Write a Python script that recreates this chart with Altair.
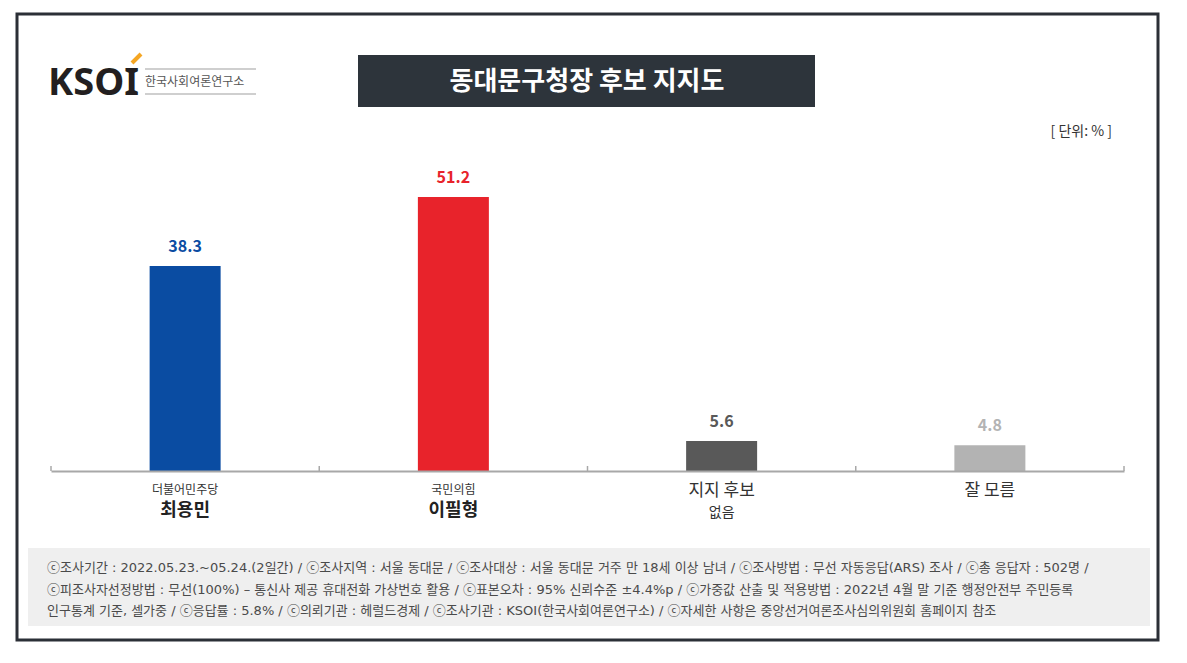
import altair as alt
import pandas as pd

# ---- data ----
categories = ["최용민", "이필형", "지지 후보 없음", "잘 모름"]
values = [38.3, 51.2, 5.6, 4.8]
party = ["더불어민주당", "국민의힘", "", ""]
line1 = ["더불어민주당", "국민의힘", "지지 후보", "잘 모름"]
line2 = ["최용민", "이필형", "없음", ""]
candidate_flag = [True, True, False, False]

title_text = "동대문구청장 후보 지지도"
unit_text = "[ 단위: % ]"
footnotes = [
    "ⓒ조사기간 : 2022.05.23.~05.24.(2일간) / ⓒ조사지역 : 서울 동대문 / ⓒ조사대상 : 서울 동대문 거주 만 18세 이상 남녀 / ⓒ조사방법 : 무선 자동응답(ARS) 조사 / ⓒ총 응답자 : 502명 /",
    "ⓒ피조사자선정방법 : 무선(100%) – 통신사 제공 휴대전화 가상번호 활용 / ⓒ표본오차 : 95% 신뢰수준 ±4.4%p / ⓒ가중값 산출 및 적용방법 : 2022년 4월 말 기준 행정안전부 주민등록",
    "인구통계 기준, 셀가중 / ⓒ응답률 : 5.8% / ⓒ의뢰기관 : 헤럴드경제 / ⓒ조사기관 : KSOI(한국사회여론연구소) / ⓒ자세한 사항은 중앙선거여론조사심의위원회 홈페이지 참조",
]

df = pd.DataFrame({
    "cat": categories,
    "value": values,
    "party": party,
    "line1": line1,
    "line2": line2,
    "cand": candidate_flag,
})

FONT = "Noto Sans CJK KR"
FOOT_FONT = "DejaVu Sans, Noto Sans CJK KR"
bar_colors = ["#0a4ca2", "#e8232b", "#595959", "#b3b3b3"]
label_colors = ["#1f5cad", "#e8232b", "#555555", "#8a8a8a"]

W, H = 1171, 463
xscale = alt.Scale(domain=categories, range=[43, 1116], paddingInner=0, paddingOuter=0)
yscale = alt.Scale(domain=[0, 60], range=[463, 142])

one = pd.DataFrame({"k": [0]})

# frame
frame = alt.Chart(one).mark_rect(fillOpacity=0, stroke="#2b2f36", strokeWidth=3).encode(
    x=alt.value(9), x2=alt.value(1150), y=alt.value(6), y2=alt.value(632))

# footnote box
foot_box = alt.Chart(one).mark_rect(fill="#efefef").encode(
    x=alt.value(20), x2=alt.value(1142), y=alt.value(540), y2=alt.value(618))

foot_layers = []
for i, t in enumerate(footnotes):
    foot_layers.append(
        alt.Chart(pd.DataFrame({"t": [t]})).mark_text(
            align="left", baseline="middle", font=FOOT_FONT, fontSize=13, color="#4a4a4a"
        ).encode(x=alt.value(39), y=alt.value(560 + i * 21.5), text="t:N")
    )

# title box
title_box = alt.Chart(one).mark_rect(fill="#2d343b").encode(
    x=alt.value(350), x2=alt.value(807), y=alt.value(47), y2=alt.value(99))
title = alt.Chart(pd.DataFrame({"t": [title_text]})).mark_text(
    align="center", baseline="middle", font=FONT, fontSize=26, fontWeight="bold", color="white"
).encode(x=alt.value(579), y=alt.value(74), text="t:N")

unit = alt.Chart(pd.DataFrame({"t": [unit_text]})).mark_text(
    align="right", baseline="middle", font=FONT, fontSize=14, color="#333333"
).encode(x=alt.value(1104), y=alt.value(124), text="t:N")

# logo
logo = alt.Chart(pd.DataFrame({"t": ["KSOI"]})).mark_text(
    align="left", baseline="alphabetic", font="Noto Sans", fontSize=38, fontWeight="bold", color="#231f20"
).encode(x=alt.value(40), y=alt.value(87), text="t:N")
logo_accent = alt.Chart(one).mark_rule(color="#f5a623", strokeWidth=4).encode(
    x=alt.value(124), y=alt.value(55), x2=alt.value(133), y2=alt.value(46))
logo_line_top = alt.Chart(one).mark_rule(color="#cfcfcf", strokeWidth=2).encode(
    x=alt.value(137), x2=alt.value(248), y=alt.value(61))
logo_line_bot = alt.Chart(one).mark_rule(color="#cfcfcf", strokeWidth=2).encode(
    x=alt.value(137), x2=alt.value(248), y=alt.value(86))
logo_sub = alt.Chart(pd.DataFrame({"t": ["한국사회여론연구소"]})).mark_text(
    align="left", baseline="middle", font=FONT, fontSize=12, color="#555555"
).encode(x=alt.value(137), y=alt.value(74), text="t:N")

# bars
base = alt.Chart(df)
bars = base.mark_bar(size=71).encode(
    x=alt.X("cat:N", scale=xscale, sort=categories,
            axis=alt.Axis(labels=False, ticks=False, title=None, grid=False, zindex=1,
                          domainColor="#a8a8a8", domainWidth=2)),
    y=alt.Y("value:Q", scale=yscale, axis=None),
    color=alt.Color("cat:N", scale=alt.Scale(domain=categories, range=bar_colors), legend=None),
)
vlabels = base.mark_text(baseline="bottom", dy=-11, font=FONT, fontSize=16, fontWeight="bold").encode(
    x=alt.X("cat:N", scale=xscale, sort=categories),
    y=alt.Y("value:Q", scale=yscale),
    text=alt.Text("value:Q", format=".1f"),
    color=alt.Color("cat:N", scale=alt.Scale(domain=categories, range=label_colors), legend=None),
)

# boundary ticks
ticks_start = base.mark_rule(color="#a8a8a8", strokeWidth=1.5).encode(
    x=alt.X("cat:N", scale=xscale, sort=categories, bandPosition=0),
    y=alt.value(458), y2=alt.value(463))
ticks_end = base.transform_filter(alt.datum.cat == categories[-1]).mark_rule(
    color="#a8a8a8", strokeWidth=1.5).encode(
    x=alt.X("cat:N", scale=xscale, sort=categories, bandPosition=1),
    y=alt.value(458), y2=alt.value(463))

# category labels
party_lbl = base.transform_filter(alt.datum.cand).mark_text(
    baseline="middle", font=FONT, fontSize=12, color="#333333").encode(
    x=alt.X("cat:N", scale=xscale, sort=categories), y=alt.value(482), text="line1:N")
cand_lbl = base.transform_filter(alt.datum.cand).mark_text(
    baseline="middle", font=FONT, fontSize=18, fontWeight="bold", color="#222222").encode(
    x=alt.X("cat:N", scale=xscale, sort=categories), y=alt.value(503), text="line2:N")
other1 = base.transform_filter(~alt.datum.cand).mark_text(
    baseline="middle", font=FONT, fontSize=17, color="#333333").encode(
    x=alt.X("cat:N", scale=xscale, sort=categories), y=alt.value(483), text="line1:N")
other2 = base.transform_filter(~alt.datum.cand).mark_text(
    baseline="middle", font=FONT, fontSize=14, color="#333333").encode(
    x=alt.X("cat:N", scale=xscale, sort=categories), y=alt.value(505), text="line2:N")

chart = alt.layer(
    foot_box, *foot_layers, title_box, title, unit,
    logo, logo_accent, logo_line_top, logo_line_bot, logo_sub,
    bars, ticks_start, ticks_end, vlabels, party_lbl, cand_lbl, other1, other2, frame,
).properties(
    width=W, height=H,
    background="white",
    autosize=alt.AutoSizeParams(type="none"),
    padding={"left": 0, "top": 0, "right": 0, "bottom": 184},
).configure_view(stroke=None)

chart.save("out.html", embed_options={"renderer": "svg", "actions": False})
